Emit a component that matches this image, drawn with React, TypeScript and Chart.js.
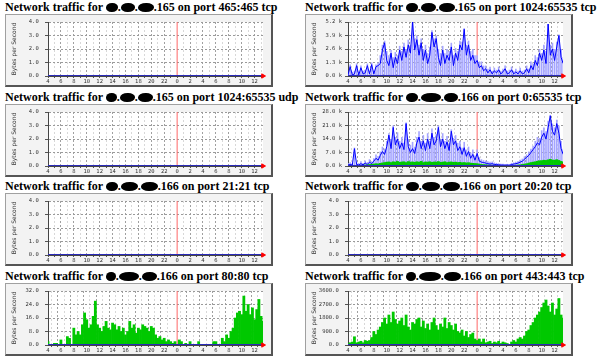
import React, { useEffect, useRef } from "react";
import { Chart, registerables } from "chart.js";
Chart.register(...registerables);

// ---- time axis (hours; 24 = midnight of the second day) ----
const HOUR_START = 4;
const HOUR_STEP = 1 / 3; // one sample every 20 minutes
const HOUR_END = 37.3;
const MIDNIGHT_HOUR = 24;
const X_TICK_HOURS = [4, 6, 8, 10, 12, 14, 16, 18, 20, 22, 24, 26, 28, 30, 32, 34, 36];
const X_TICK_LABELS = ["4", "6", "8", "10", "12", "14", "16", "18", "20", "22", "0", "2", "4", "6", "8", "10", "12"];

// ---- y tick labels ----
const Y_LABELS_SMALL = ["0.0 ", "1.0 ", "2.0 ", "3.0 ", "4.0 "];
const Y_LABELS_165_HIGH = ["0.0 k", "1.3 k", "2.6 k", "3.9 k", "5.2 k"];
const Y_LABELS_166_ALL = ["0.0 k", "7.0 k", "14.0 k", "21.0 k", "28.0 k"];
const Y_LABELS_166_HTTP = ["0.0 ", "8.0 ", "16.0 ", "24.0 ", "32.0 "];
const Y_LABELS_166_HTTPS = ["0.0 ", "900.0 ", "1800.0 ", "2700.0 ", "3600.0 "];

const Y_MAX_SMALL = 4;
const Y_MAX_165_HIGH = 5200;
const Y_MAX_166_ALL = 28000;
const Y_MAX_166_HTTP = 32;
const Y_MAX_166_HTTPS = 3600;

// ---- series (bytes per second, one value per 20 minutes from 04:00) ----
const FLAT_ZERO = [0, 0]; // at HOUR_START and HOUR_END

const HIGH165_AVG = [
  100, 900, 100, 200, 1000, 100, 800, 200, 300, 1000,
  200, 1100, 200, 900, 1000, 1200, 2500, 3200, 1500, 1000,
  2200, 800, 1800, 1200, 2500, 1500, 2800, 1800, 3000, 2200,
  5200, 2500, 3500, 2000, 3200, 1500, 2500, 1200, 2000, 4200,
  2800, 3600, 1800, 1000, 2500, 1200, 2000, 1500, 2800, 1000,
  2200, 1500, 3000, 2500, 4500, 2000, 3000, 1500, 2000, 1200,
  1500, 800, 1000, 500, 700, 300, 600, 200, 500, 300,
  600, 200, 400, 700, 200, 300, 600, 200, 400, 200,
  500, 200, 300, 700, 300, 1000, 600, 1500, 1000, 2200,
  1500, 2500, 1200, 5000, 2000, 2600, 1500, 2800, 3900, 1800,
  1200,
];
const HIGH165_MAX = [
  300, 1100, 400, 500, 1200, 400, 1000, 500, 600, 1200,
  500, 1300, 500, 1100, 1300, 2000, 3000, 3400, 2400, 2000,
  2500, 1800, 2300, 2000, 2900, 2400, 3200, 2600, 3500, 3000,
  5200, 3600, 3900, 3000, 3600, 2600, 3000, 2200, 2800, 4400,
  3600, 3900, 2600, 2200, 2900, 2200, 2600, 2400, 3200, 2000,
  2700, 2400, 3400, 3300, 4600, 3000, 3400, 2400, 2600, 2000,
  2000, 1400, 1400, 1000, 1000, 700, 900, 500, 800, 600,
  900, 500, 700, 1000, 500, 600, 900, 500, 700, 500,
  800, 500, 600, 1000, 700, 1400, 1200, 2000, 1800, 2600,
  2200, 3000, 2400, 5000, 3000, 3200, 2600, 3300, 4000, 2600,
  1800,
];

const ALL166_AVG = [
  500, 800, 500, 9000, 800, 500, 1200, 600, 1500, 800,
  2000, 1200, 2500, 4000, 3000, 5500, 7500, 6000, 10000, 16000,
  9000, 20000, 11000, 14000, 9000, 12000, 8500, 22000, 10000, 7000,
  9000, 6500, 12000, 15000, 9000, 13000, 8000, 14000, 9000, 17000,
  11000, 13000, 20000, 10000, 14000, 9000, 12500, 8000, 18000, 11000,
  13000, 8000, 10000, 6000, 9500, 5000, 7500, 4000, 6000, 3000,
  6500, 2500, 2000, 1800, 1500, 1200, 1000, 1200, 800, 800,
  600, 500, 500, 400, 500, 400, 800, 1000, 1200, 1500,
  2000, 2500, 3500, 4500, 5500, 7000, 8500, 10000, 12000, 11000,
  15000, 17000, 14000, 20000, 26000, 18000, 16000, 22000, 17000, 9000,
  6000,
];
const ALL166_MAX = [
  1500, 2000, 1500, 9500, 2000, 1500, 2500, 1500, 2800, 2000,
  3500, 2500, 4000, 6000, 5000, 7500, 10000, 9000, 13000, 17000,
  14000, 21000, 15000, 17500, 13000, 15000, 12000, 22500, 14000, 11000,
  12500, 10000, 15000, 18000, 13000, 16000, 12000, 17000, 13000, 19500,
  15000, 16500, 21000, 14000, 17000, 13000, 15500, 12000, 19000, 14500,
  16000, 12000, 13000, 9500, 12500, 8500, 10000, 7000, 8500, 5500,
  8500, 4500, 3500, 3000, 2800, 2400, 2200, 2300, 1800, 1600,
  1400, 1200, 1200, 1000, 1100, 1000, 1600, 1800, 2200, 2600,
  3200, 3800, 5000, 6000, 7500, 9000, 10500, 13000, 15000, 14500,
  18500, 20000, 18000, 23500, 26500, 22000, 20000, 24000, 21000, 13000,
  9000,
];
const ALL166_IN = [
  100, 100, 200, 300, 200, 200, 300, 400, 500, 600,
  800, 900, 1000, 1200, 1100, 1400, 1600, 1800, 2000, 2100,
  1800, 2200, 2000, 2400, 1900, 2100, 2200, 1800, 2300, 2000,
  2100, 1900, 2200, 2000, 2400, 1800, 2100, 2000, 2200, 1900,
  2100, 2000, 2300, 1900, 2000, 2200, 1800, 2000, 2100, 1900,
  2000, 1800, 1900, 1700, 1800, 1600, 1700, 1500, 1400, 1300,
  1200, 1000, 800, 700, 600, 500, 500, 400, 400, 300,
  300, 300, 200, 200, 200, 200, 300, 300, 400, 500,
  600, 800, 1000, 1200, 1500, 1800, 2000, 2200, 2500, 2700,
  2800, 3000, 2900, 3200, 3500, 3100, 3000, 3300, 2900, 2400,
  2000,
];

const HTTP166_IN = [
  2, 0, 0, 1, 1, 0, 3, 0, 0, 5,
  4, 0, 10, 6, 8, 6, 12, 19, 15, 10,
  12, 17, 26, 12, 10, 8, 11, 14, 10, 9,
  13, 12, 9, 11, 8, 10, 6, 8, 14, 10,
  12, 7, 10, 9, 12, 11, 10, 8, 11, 10,
  6, 4, 5, 3, 4, 2, 3, 2, 1, 2,
  0, 3, 2, 0, 1, 0, 2, 0, 0, 0,
  2, 0, 0, 0, 0, 0, 0, 2, 2, 0,
  0, 4, 2, 6, 4, 8, 10, 16, 19, 20,
  18, 29, 20, 24, 18, 22, 15, 21, 27, 17,
  14,
];

const HTTPS166_IN = [
  100, 150, 200, 550, 150, 200, 250, 150, 300, 250,
  300, 500, 900, 700, 1000, 1200, 1500, 1800, 1400, 2000,
  1500, 2200, 1700, 1400, 1600, 1800, 1300, 2000, 1200, 1000,
  1500, 1400, 1700, 1800, 1200, 1600, 1100, 1400, 1000, 1500,
  1800, 1300, 1000, 1400, 1200, 1800, 1100, 1500, 1300, 1000,
  1400, 900, 800, 1000, 600, 900, 500, 700, 800, 400,
  300, 400, 200, 400, 150, 200, 250, 100, 200, 150,
  250, 100, 200, 150, 100, 0, 200, 300, 200, 400,
  500, 400, 600, 900, 1000, 1300, 1500, 1800, 2000, 2200,
  2500, 2800, 3000, 2600, 2200, 2800, 2000, 2400, 3100, 2000,
  1800,
];

// ---- panels ----
type PanelCfg = {
  col: number;
  row: number;
  blobs: number[];
  suffix: string;
  yMax: number;
  yLabels: string[];
  avg?: number[];
  max?: number[];
  green?: number[];
};

const PANELS: PanelCfg[] = [
  { col: 0, row: 0, blobs: [12, 14, 16], suffix: ".165 on port 465:465 tcp", yMax: Y_MAX_SMALL, yLabels: Y_LABELS_SMALL },
  { col: 1, row: 0, blobs: [12, 15, 16], suffix: ".165 on port 1024:65535 tcp", yMax: Y_MAX_165_HIGH, yLabels: Y_LABELS_165_HIGH, avg: HIGH165_AVG, max: HIGH165_MAX },
  { col: 0, row: 1, blobs: [11, 15, 15], suffix: ".165 on port 1024:65535 udp", yMax: Y_MAX_SMALL, yLabels: Y_LABELS_SMALL },
  { col: 1, row: 1, blobs: [12, 20, 14], suffix: ".166 on port 0:65535 tcp", yMax: Y_MAX_166_ALL, yLabels: Y_LABELS_166_ALL, avg: ALL166_AVG, max: ALL166_MAX, green: ALL166_IN },
  { col: 0, row: 2, blobs: [12, 17, 17], suffix: ".166 on port 21:21 tcp", yMax: Y_MAX_SMALL, yLabels: Y_LABELS_SMALL },
  { col: 1, row: 2, blobs: [13, 18, 17], suffix: ".166 on port 20:20 tcp", yMax: Y_MAX_SMALL, yLabels: Y_LABELS_SMALL },
  { col: 0, row: 3, blobs: [10, 20, 15], suffix: ".166 on port 80:80 tcp", yMax: Y_MAX_166_HTTP, yLabels: Y_LABELS_166_HTTP, green: HTTP166_IN },
  { col: 1, row: 3, blobs: [10, 22, 17], suffix: ".166 on port 443:443 tcp", yMax: Y_MAX_166_HTTPS, yLabels: Y_LABELS_166_HTTPS, green: HTTPS166_IN },
];

const COL_LEFT = [5, 305];
const ROW_TOP = [14, 104, 193, 283];
const BOX_W = 268;
const BOX_H = 73;
const CANVAS_W = 265;
const CANVAS_H = 70;

const toPoints = (arr: number[]) => arr.map((v, i) => ({ x: HOUR_START + i * HOUR_STEP, y: v }));

const plotBg = {
  id: "plotBg",
  beforeDraw(chart: any) {
    const { ctx, chartArea: a } = chart;
    ctx.save();
    ctx.fillStyle = "#ffffff";
    ctx.fillRect(a.left, a.top, a.width, a.height);
    ctx.restore();
  },
};

const MONO = "'DejaVu Sans Mono', monospace";

function buildConfig(cfg: PanelCfg): any {
  const datasets: any[] = [];
  // midnight marker
  datasets.push({
    type: "line",
    data: [
      { x: MIDNIGHT_HOUR, y: 0 },
      { x: MIDNIGHT_HOUR, y: cfg.yMax },
    ],
    borderColor: "#ff6666",
    borderWidth: 1,
    pointRadius: 0,
    fill: false,
    order: 9,
  });
  if (cfg.max && cfg.avg) {
    datasets.push({
      type: "bar",
      data: toPoints(cfg.max),
      backgroundColor: "#a4a4ff",
      borderWidth: 0,
      barPercentage: 0.75,
      categoryPercentage: 1,
      grouped: false,
      order: 6,
    });
  }
  if (cfg.green) {
    datasets.push({
      type: "bar",
      data: toPoints(cfg.green),
      backgroundColor: "#00c800",
      borderWidth: 0,
      barPercentage: 1,
      categoryPercentage: 1,
      grouped: false,
      order: 5,
    });
  }
  if (cfg.avg) {
    datasets.push({
      type: "line",
      data: toPoints(cfg.avg),
      borderColor: "#0000ff",
      borderWidth: 1,
      fill: false,
      pointRadius: 0,
      tension: 0,
      order: 3,
    });
  }
  datasets.push({
    type: "line",
    data: [
      { x: HOUR_START, y: FLAT_ZERO[0] },
      { x: HOUR_END, y: FLAT_ZERO[1] },
    ],
    borderColor: "#2a2ab8",
    borderWidth: 2,
    pointRadius: 0,
    fill: false,
    order: 2,
  });
  datasets.push({
    type: "line",
    data: [{ x: HOUR_END, y: 0 }],
    showLine: false,
    pointStyle: "triangle",
    rotation: 90,
    pointRadius: 2.5,
    backgroundColor: "#ff0000",
    borderColor: "#ff0000",
    borderWidth: 1,
    clip: false,
    order: 1,
  });

  const step = cfg.yMax / 4;
  return {
    type: "line",
    data: { datasets },
    plugins: [plotBg],
    options: {
      animation: false,
      responsive: false,
      events: [],
      layout: { padding: { left: 0, top: 7, right: 8, bottom: 0 } },
      plugins: { legend: { display: false }, tooltip: { enabled: false } },
      scales: {
        x: {
          type: "linear",
          min: HOUR_START,
          max: HOUR_END,
          offset: false,
          afterFit: (s: any) => {
            s.height = 9;
          },
          ticks: {
            stepSize: 1,
            autoSkip: false,
            includeBounds: false,
            maxRotation: 0,
            minRotation: 0,
            padding: 0,
            color: "#333",
            font: { family: MONO, size: 5.5 },
            callback: (v: number) => {
              const i = X_TICK_HOURS.indexOf(v);
              return i >= 0 ? X_TICK_LABELS[i] : "";
            },
          },
          grid: {
            color: (c: any) => {
              const v = c.tick ? c.tick.value : 0;
              if (v === MIDNIGHT_HOUR) return "rgba(0,0,0,0)";
              return v % 2 === 0 ? "#a0a0a0" : "#d8d8d8";
            },
            lineWidth: 1,
            tickLength: 2,
            tickColor: "#555",
          },
          border: { display: true, color: "#444", width: 1, dash: [2, 2] },
        },
        y: {
          min: 0,
          max: cfg.yMax,
          afterFit: (s: any) => {
            s.width = 42;
          },
          ticks: {
            stepSize: step,
            autoSkip: false,
            padding: 3,
            color: "#333",
            font: { family: MONO, size: 5.5 },
            callback: (v: number) => cfg.yLabels[Math.round(v / step)] ?? "",
          },
          grid: {
            color: "#9a9a9a",
            lineWidth: 1,
            tickLength: 3,
            tickColor: "#555",
          },
          border: { display: true, color: "#444", width: 1, dash: [2, 2] },
          title: {
            display: true,
            text: "Bytes per Second",
            color: "#333",
            font: { family: "'DejaVu Sans', sans-serif", size: 6 },
            padding: { top: 5, bottom: 0 },
          },
        },
      },
    },
  };
}

function Blob({ w }: { w: number }) {
  return (
    <span
      style={{
        display: "inline-block",
        width: w,
        height: 9,
        background: "#000",
        borderRadius: "50% 45% 50% 45%",
        verticalAlign: "-1px",
      }}
    />
  );
}

function Panel({ cfg }: { cfg: PanelCfg }) {
  const ref = useRef<HTMLCanvasElement>(null);
  useEffect(() => {
    if (!ref.current) return;
    const chart = new Chart(ref.current, buildConfig(cfg));
    return () => chart.destroy();
  }, [cfg]);
  const left = COL_LEFT[cfg.col];
  const top = ROW_TOP[cfg.row];
  return (
    <>
      <div
        style={{
          position: "absolute",
          left,
          top: top - 14,
          whiteSpace: "nowrap",
          fontFamily: "'Liberation Serif', serif",
          fontWeight: "bold",
          fontSize: 12,
          lineHeight: "14px",
          color: "#000",
        }}
      >
        {"Network traffic for "}
        <Blob w={cfg.blobs[0]} />.<Blob w={cfg.blobs[1]} />.<Blob w={cfg.blobs[2]} />
        {cfg.suffix}
      </div>
      <div
        style={{
          position: "absolute",
          left,
          top,
          width: BOX_W,
          height: BOX_H,
          boxSizing: "border-box",
          background: "#f3f3f3",
          borderTop: "1px solid #a0a0a0",
          borderLeft: "1px solid #a0a0a0",
          borderRight: "2px solid #555",
          borderBottom: "2px solid #555",
        }}
      >
        <canvas ref={ref} width={CANVAS_W} height={CANVAS_H} style={{ display: "block" }} />
      </div>
    </>
  );
}

export default function App() {
  return (
    <div style={{ position: "fixed", left: 0, top: 0, width: 600, height: 362, background: "#fff", overflow: "hidden" }}>
      {PANELS.map((p, i) => (
        <Panel key={i} cfg={p} />
      ))}
    </div>
  );
}
